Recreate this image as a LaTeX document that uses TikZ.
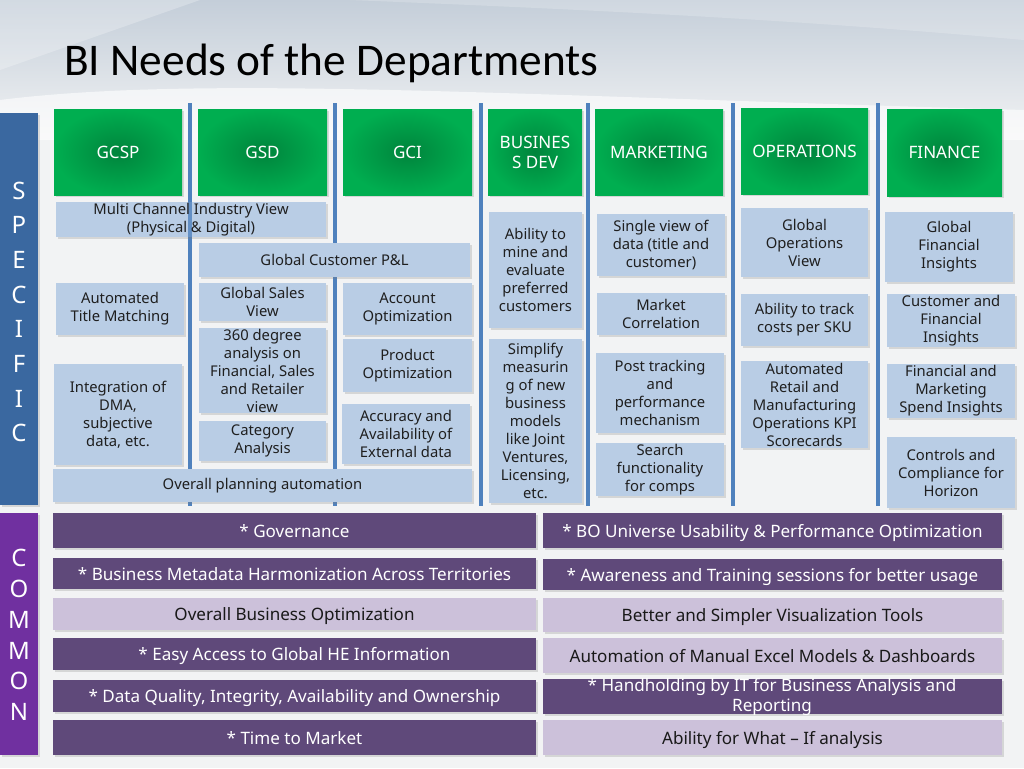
\documentclass[tikz,border=0pt]{standalone}
\usepackage{fontspec}
\setmainfont{Noto Sans}
\newfontfamily\titlefont{Carlito}
\usetikzlibrary{shadows}
\definecolor{lbfill}{HTML}{B9CDE5}
\definecolor{gin}{HTML}{00843C}
\definecolor{gout}{HTML}{00AE50}
\definecolor{specblue}{HTML}{3A68A0}
\definecolor{compurple}{HTML}{7030A0}
\definecolor{dpurple}{HTML}{5F497A}
\definecolor{lpurple}{HTML}{CCC1DA}
\definecolor{vblue}{HTML}{4F81BD}
\definecolor{bgtop}{HTML}{C4CED9}
\definecolor{bgmid}{HTML}{E4E9EE}
\definecolor{bgbody}{HTML}{F2F3F4}
\newcommand\btxt{\fontsize{11.1}{13.5}\selectfont}
\newcommand\htxt{\fontsize{12.8}{15}\selectfont}
\newcommand\ctxt{\fontsize{12.8}{15}\selectfont}
\newcommand\bx[7][lb]{\node[#1, minimum width={(#5-#3)*0.75pt}, minimum height={(#6-#4)*0.75pt}] (#2) at ({(#3+#5)/2},{(#4+#6)/2}) {#7};}
\begin{document}
\begin{tikzpicture}[x=0.75pt,y=-0.75pt,
  shad/.style={drop shadow={opacity=0.25, shadow xshift=1.2pt, shadow yshift=-1.2pt}},
  lb/.style={fill=lbfill, inner sep=0pt, outer sep=0pt, align=center, font=\btxt, text=black!88, shad},
  hd/.style={inner color=gin, outer color=gout, inner sep=0pt, outer sep=0pt, align=center, font=\htxt, text=white, shad},
  dp/.style={fill=dpurple, inner sep=0pt, outer sep=0pt, align=center, font=\ctxt, text=white, text height=11pt, text depth=1.2pt, shad},
  lp/.style={fill=lpurple, inner sep=0pt, outer sep=0pt, align=center, font=\ctxt, text=black!90, text height=11pt, text depth=1.2pt, shad},
  vline/.style={draw=vblue, line width=2.6pt}]
\useasboundingbox (0,0) rectangle (1024,768);
% background
\fill[bgbody] (0,0) rectangle (1024,768);
\shade[top color=bgtop, bottom color=bgbody] (0,0) rectangle (1024,140);
\fill[white, opacity=0.6] (0,140) -- (0,100) .. controls (200,75) and (500,95) .. (1024,110) -- (1024,140) -- cycle;
\fill[white, opacity=0.25] (0,0) -- (200,0) -- (0,70) -- cycle;
\fill[white, opacity=0.2] (350,0) -- (1024,0) -- (1024,40) .. controls (800,20) and (600,10) .. (350,0);
% title
\node[anchor=base west, inner sep=0pt, font=\titlefont\fontsize{34}{38}\selectfont, text=black] (title) at (64,75) {BI Needs of the Departments};
% side bars
\bx[fill=specblue, inner sep=0pt, shad]{specbar}{0}{113}{38}{505}{}
\bx[fill=compurple, inner sep=0pt, shad]{combar}{0}{513}{38}{755}{}
\node[text=white, align=center, font=\fontsize{18}{26}\selectfont, inner sep=0pt] (spec) at (19,312) {S\\P\\E\\C\\I\\F\\I\\C};
\node[text=white, align=center, font=\fontsize{18}{23.1}\selectfont, inner sep=0pt] (comm) at (19,635) {C\\O\\M\\M\\O\\N};
% vertical separators
\foreach \i/\x in {1/190,2/335,3/481,4/588,5/733,6/878}{
  \coordinate (t\i) at (\x,103); \coordinate (b\i) at (\x,506);
  \draw[vline] (t\i) -- (b\i);}
% headers
\bx[hd]{h1}{54}{109}{182}{195}{GCSP}
\bx[hd]{h2}{198}{109}{327}{195}{GSD}
\bx[hd]{h3}{343}{109}{472}{195}{GCI}
\bx[hd]{h4}{488}{109}{582}{195}{BUSINES\\S DEV}
\bx[hd]{h5}{595}{109}{723}{195}{MARKETING}
\bx[hd]{h6}{741}{108}{868}{194}{OPERATIONS}
\bx[hd]{h7}{887}{109}{1002}{196}{FINANCE}
% column GCSP
\bx{a1}{56}{202}{326}{237}{}
\coordinate (m1) at (190,202); \coordinate (m2) at (190,237);
\draw[vline, opacity=0.8] (m1) -- (m2);
\node[align=center, font=\btxt, text=black!88, inner sep=0pt] (a1t) at (191,219.5) {Multi Channel Industry View\\(Physical \& Digital)};
\bx{a2}{56}{283}{184}{335}{Automated\\Title Matching}
\bx{a3}{54}{364}{182}{465}{Integration of\\DMA,\\subjective\\data, etc.}
\bx{a4}{53}{469}{472}{502}{Overall planning automation}
% column GSD
\bx{b1}{199}{243}{470}{277}{Global Customer P\&L}
\bx{b2}{199}{283}{326}{321}{Global Sales\\View}
\bx{b3}{199}{328}{326}{413}{360 degree\\analysis on\\Financial, Sales\\and Retailer\\view}
\bx{b4}{199}{421}{326}{461}{Category\\Analysis}
% column GCI
\bx{c1}{343}{283}{472}{335}{Account\\Optimization}
\bx{c2}{343}{339}{472}{392}{Product\\Optimization}
\bx{c3}{342}{404}{470}{464}{Accuracy and\\Availability of\\External data}
% column Business dev
\bx{d1}{489}{212}{582}{328}{Ability to\\mine and\\evaluate\\preferred\\customers}
\bx{d2}{489}{339}{582}{503}{Simplify\\measurin\\g of new\\business\\models\\like Joint\\Ventures,\\Licensing,\\etc.}
% column Marketing
\bx{e1}{597}{214}{725}{276}{Single view of\\data (title and\\customer)}
\bx{e2}{597}{293}{725}{335}{Market\\Correlation}
\bx{e3}{596}{353}{724}{433}{Post tracking\\and\\performance\\mechanism}
\bx{e4}{596}{443}{724}{496}{Search\\functionality\\for comps}
% column Operations
\bx{f1}{741}{208}{868}{277}{Global\\Operations\\View}
\bx{f2}{741}{294}{868}{346}{Ability to track\\costs per SKU}
\bx{f3}{741}{361}{868}{448}{Automated\\Retail and\\Manufacturing\\Operations KPI\\Scorecards}
% column Finance
\bx{g1}{885}{212}{1013}{282}{Global\\Financial\\Insights}
\bx{g2}{887}{294}{1015}{347}{Customer and\\Financial\\Insights}
\bx{g3}{887}{364}{1015}{418}{Financial and\\Marketing\\Spend Insights}
\bx{g4}{887}{437}{1015}{508}{Controls and\\Compliance for\\Horizon}
% common left
\bx[dp]{l1}{53}{513}{536}{548}{* Governance}
\bx[dp]{l2}{53}{558}{536}{589}{* Business Metadata Harmonization Across Territories}
\bx[lp]{l3}{53}{598}{536}{630}{Overall Business Optimization}
\bx[dp]{l4}{53}{638}{536}{670}{* Easy Access to Global HE Information}
\bx[dp]{l5}{53}{680}{536}{712}{* Data Quality, Integrity, Availability and Ownership}
\bx[dp]{l6}{53}{720}{536}{755}{* Time to Market}
% common right
\bx[dp]{r1}{543}{513}{1002}{548}{* BO Universe Usability \& Performance Optimization}
\bx[dp]{r2}{543}{559}{1002}{590}{* Awareness and Training sessions for better usage}
\bx[lp]{r3}{543}{598}{1002}{632}{Better and Simpler Visualization Tools}
\bx[lp]{r4}{543}{638}{1002}{673}{Automation of Manual Excel Models \& Dashboards}
\bx[dp]{r5}{543}{679}{1002}{714}{}
\node[align=center, font=\ctxt, text=white, inner sep=0pt] (r5t) at (772,697) {* Handholding by IT for Business Analysis and\\Reporting};
\bx[lp]{r6}{543}{720}{1002}{755}{Ability for What -- If analysis}
\end{tikzpicture}
\end{document}
